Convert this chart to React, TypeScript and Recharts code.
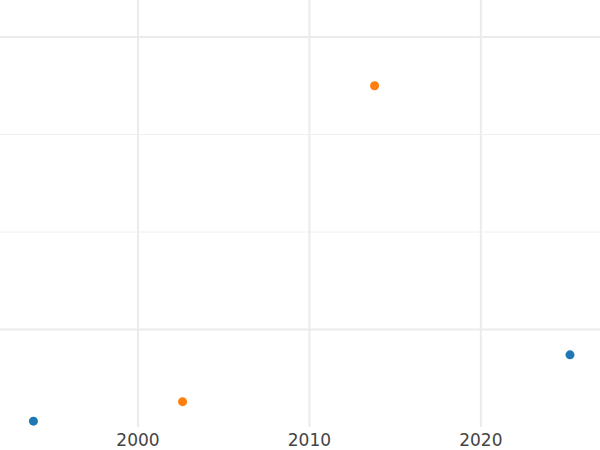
import React from "react";
import {
  ScatterChart, Scatter, XAxis, YAxis, ZAxis, ReferenceLine,
} from "recharts";

const YEAR_TICKS = [2000, 2010, 2020];
const Y_MAJOR = [0, 3];
const Y_MINOR = [1, 2];

const BLUE_YEARS = [1993.9, 2025.2];
const BLUE_VALUES = [-0.94, -0.26];
const ORANGE_YEARS = [2002.6, 2013.8];
const ORANGE_VALUES = [-0.74, 2.5];

const blueData = BLUE_YEARS.map((x, i) => ({ x, y: BLUE_VALUES[i] }));
const orangeData = ORANGE_YEARS.map((x, i) => ({ x, y: ORANGE_VALUES[i] }));

export default function App() {
  return (
    <div style={{ position: "absolute", left: 0, top: 0, width: 600, height: 450, background: "#fff" }}>
      <ScatterChart width={600} height={450} margin={{ top: 0, right: 0, bottom: 0, left: 0 }}>
        <XAxis
          type="number"
          dataKey="x"
          domain={[1991.95, 2026.95]}
          ticks={YEAR_TICKS}
          height={23}
          axisLine={false}
          tickLine={false}
          tick={{ fontSize: 17, fill: "#444", fontFamily: "DejaVu Sans" }}
          dy={-1}
        />
        <YAxis type="number" dataKey="y" domain={[-1.0, 3.38]} hide width={0} />
        <ZAxis range={[64, 64]} />
        {YEAR_TICKS.map((t) => (
          <ReferenceLine key={"v" + t} x={t} stroke="#ebebeb" strokeWidth={2} />
        ))}
        {Y_MAJOR.map((t) => (
          <ReferenceLine key={"M" + t} y={t} stroke="#ebebeb" strokeWidth={2} />
        ))}
        {Y_MINOR.map((t) => (
          <ReferenceLine key={"m" + t} y={t} stroke="#f0f0f0" strokeWidth={1} />
        ))}
        <Scatter data={blueData} fill="#1f77b4" isAnimationActive={false} />
        <Scatter data={orangeData} fill="#ff7f0e" isAnimationActive={false} />
      </ScatterChart>
    </div>
  );
}
